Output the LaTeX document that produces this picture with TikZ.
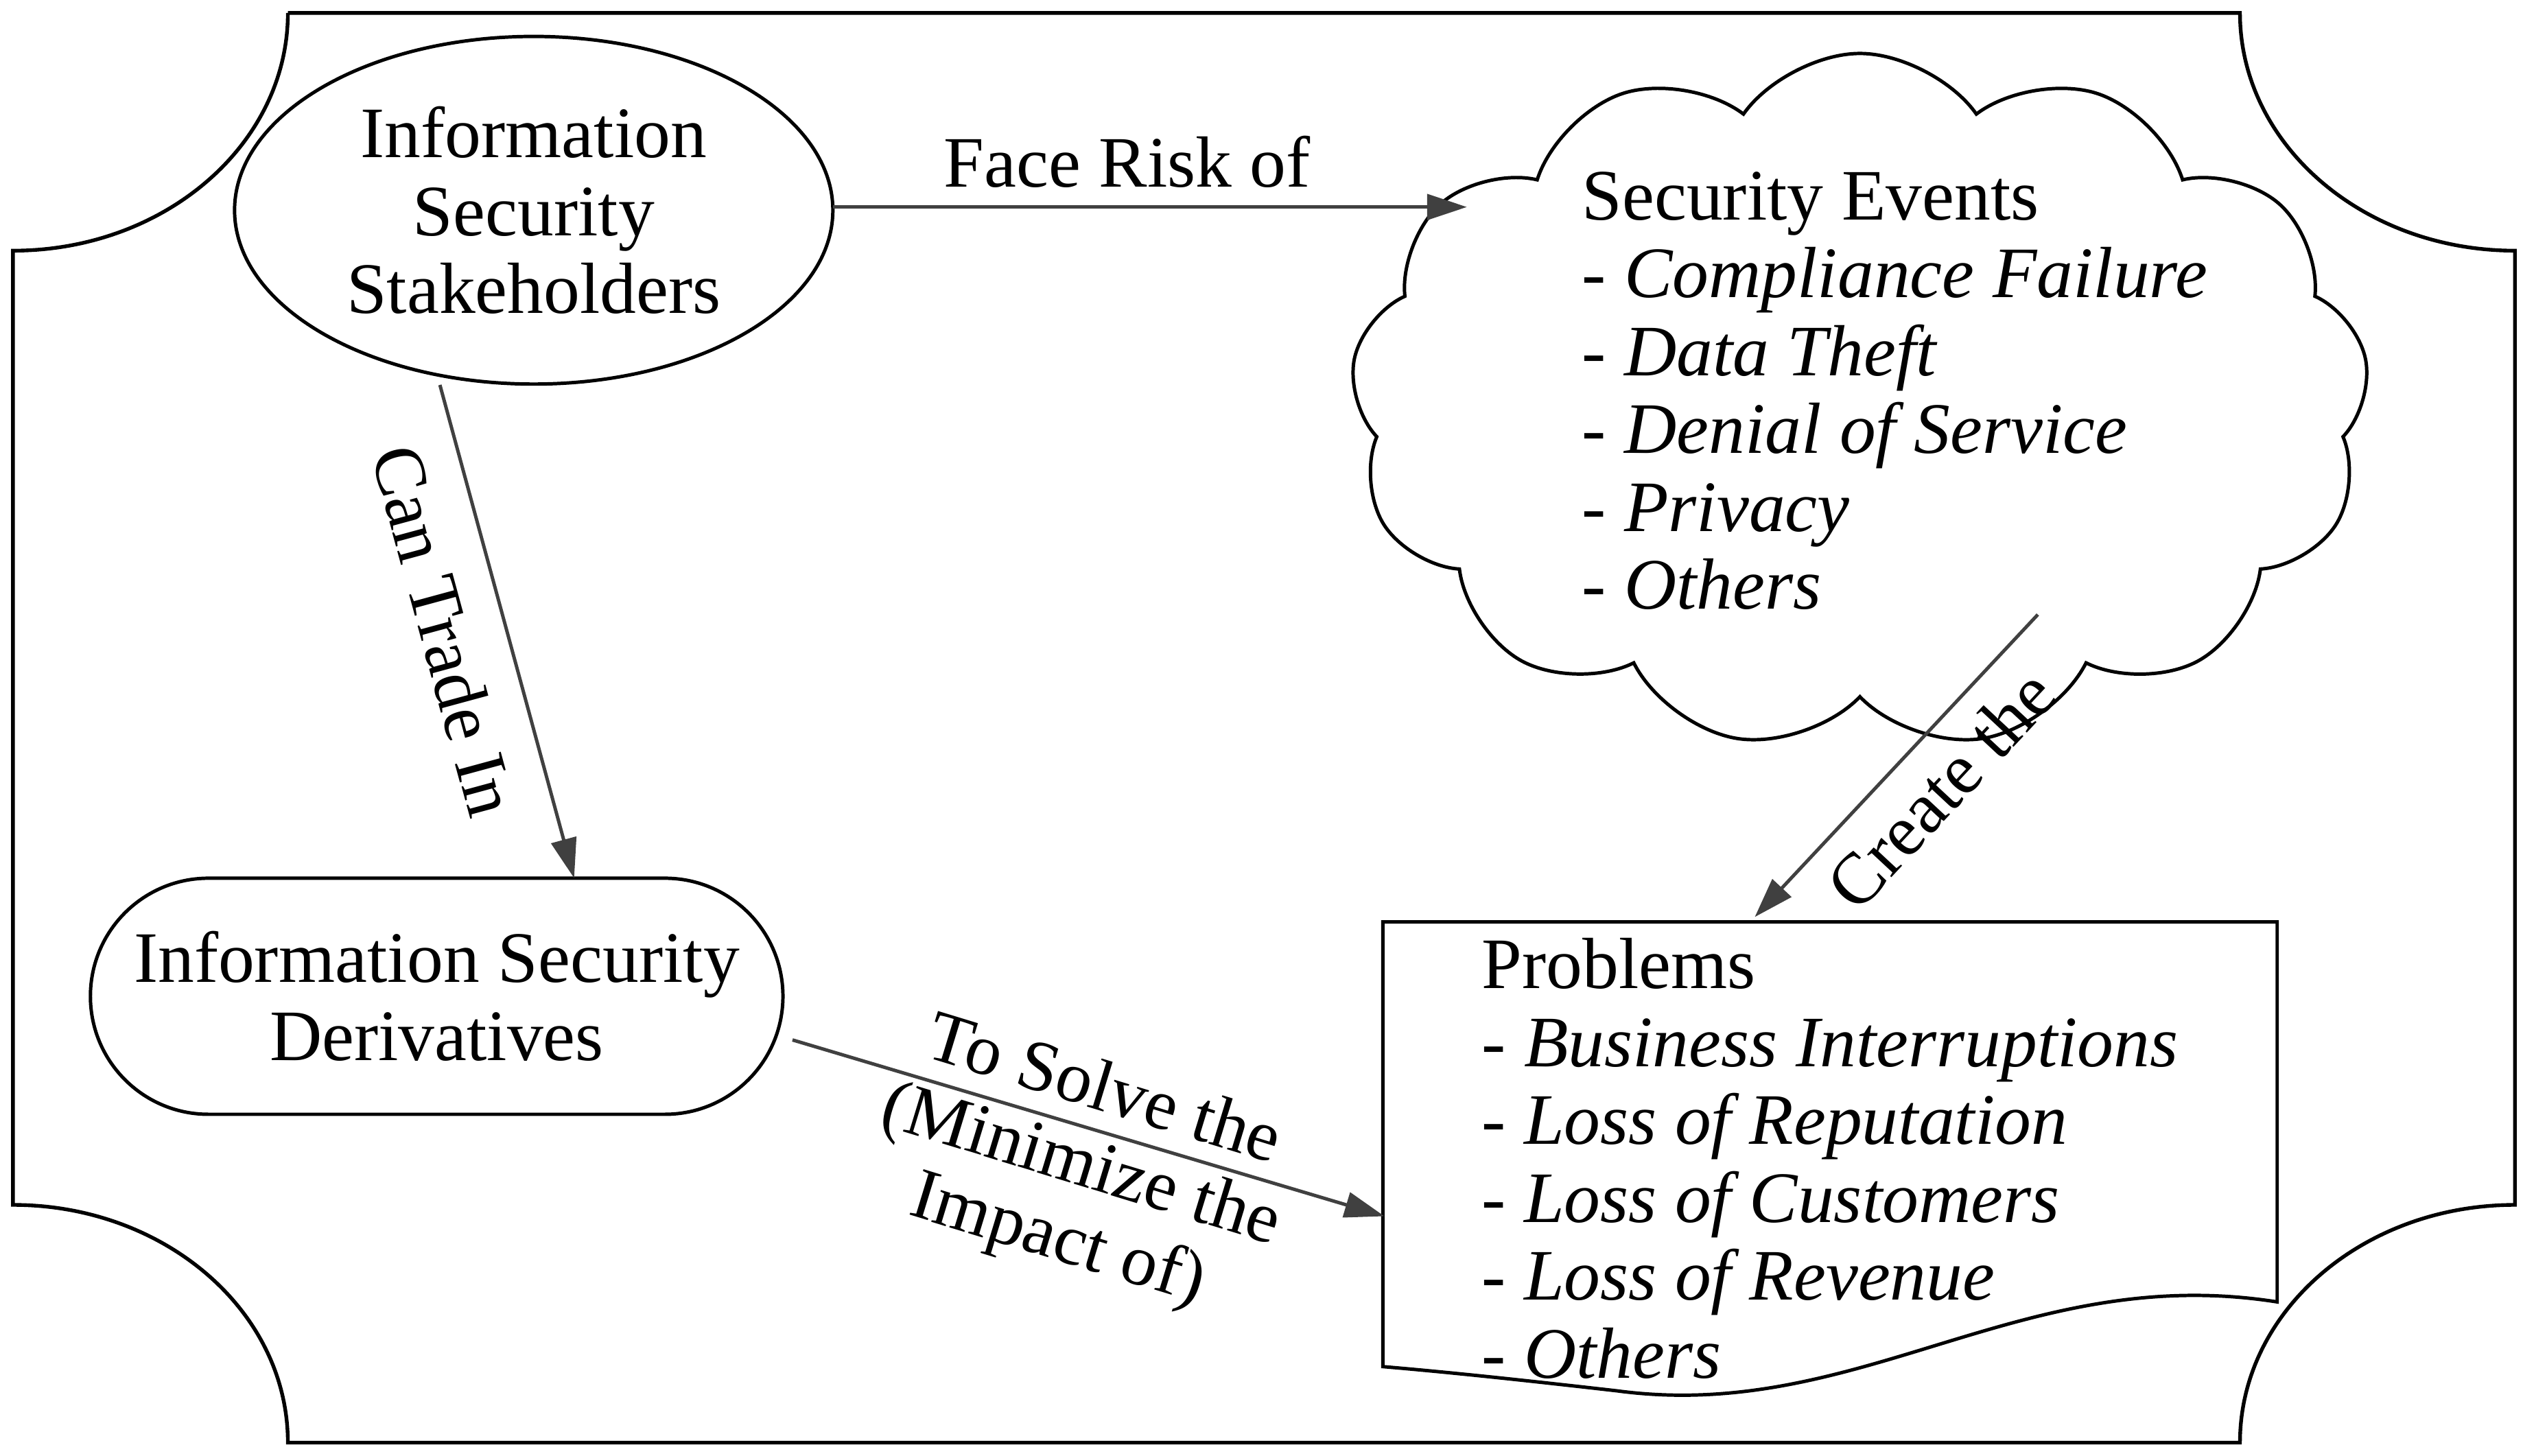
\documentclass[tikz,border=0pt]{standalone}
\usepackage{fontspec}
\setmainfont{Liberation Serif}
\usetikzlibrary{shapes.geometric,shapes.symbols,shapes.misc,arrows.meta}
\begin{document}
\begin{tikzpicture}[x=0.02cm,y=-0.02cm,
  txt/.style={font=\fontsize{25.5}{27.4}\selectfont},
  arr/.style={draw=black!75,line width=1.2pt,-{Triangle[length=14pt,width=9pt]}},
  lbl/.style={txt,inner sep=2pt}]
\useasboundingbox (0,0) rectangle (1560,900);
% frame
\draw[line width=1.3pt] (178,8) -- (1385,8) arc[start angle=180,end angle=270,x radius=170,y radius=-147]
  -- (1555,745) arc[start angle=90,end angle=180,x radius=170,y radius=-147]
  -- (178,892) arc[start angle=0,end angle=90,x radius=170,y radius=-147]
  -- (8,155) arc[start angle=270,end angle=360,x radius=170,y radius=-147];
% nodes
\node[ellipse,draw,line width=1.2pt,minimum width=7.4cm,minimum height=4.3cm,txt,align=center] (stk) at (330,130) {Information\\Security\\Stakeholders};
\node[cloud,draw,line width=1.2pt,cloud puffs=13,cloud puff arc=110,aspect=1.5,minimum width=12.6cm,minimum height=8.6cm] (cl) at (1150,248) {};
\node[txt,align=left,anchor=north west] (evt) at (972,100) {Security Events\\- \textit{Compliance Failure}\\- \textit{Data Theft}\\- \textit{Denial of Service}\\- \textit{Privacy}\\- \textit{Others}};
\node[rounded rectangle,draw,line width=1.2pt,minimum width=8.8cm,minimum height=2.92cm,txt,align=center] (der) at (270,616) {Information Security\\Derivatives};
\draw[line width=1.2pt] (855,570) -- (1408,570) -- (1408,805) .. controls (1250,780) and (1150,880) .. (1000,860) .. controls (930,852) and (890,848) .. (855,845) -- cycle;
\node[txt,align=left,anchor=north west] (prb) at (910,574) {Problems\\- \textit{Business Interruptions}\\- \textit{Loss of Reputation}\\- \textit{Loss of Customers}\\- \textit{Loss of Revenue}\\- \textit{Others}};
% connectors
\coordinate (a1) at (515,128); \coordinate (b1) at (907,128);
\draw[arr] (a1) -- (b1);
\node[lbl] at (697,100) {Face Risk of};
\coordinate (a2) at (272,238); \coordinate (b2) at (355,543);
\draw[arr] (a2) -- (b2);
\node[lbl,rotate=-74.8] at (275,390) {Can Trade In};
\coordinate (a3) at (1260,380); \coordinate (b3) at (1085,567);
\draw[arr] (a3) -- (b3);
\node[lbl,rotate=47] at (1200,488) {Create the};
\coordinate (a4) at (490,643); \coordinate (b4) at (856,752);
\draw[arr] (a4) -- (b4);
\node[lbl,rotate=-17,align=center] at (668,722) {To Solve the\\(Minimize the\\Impact of)};
\end{tikzpicture}
\end{document}
